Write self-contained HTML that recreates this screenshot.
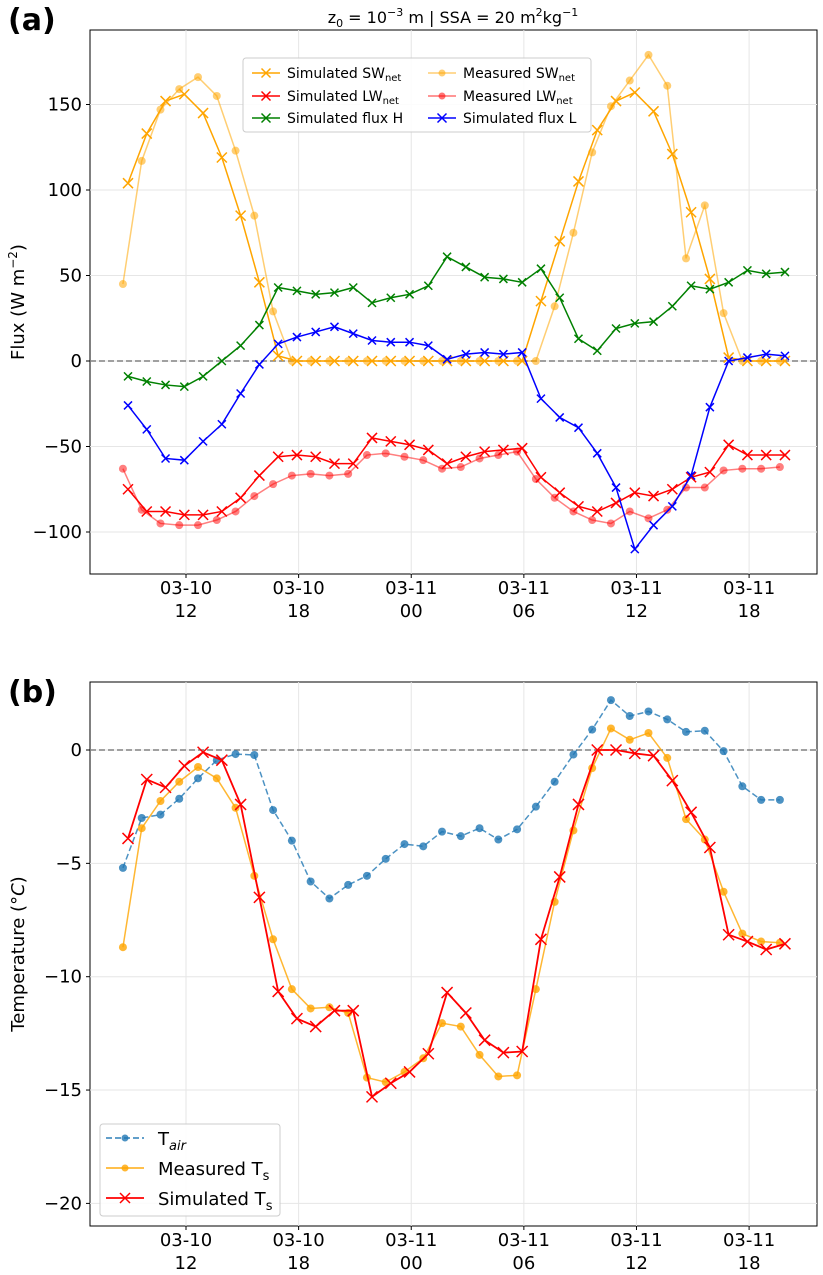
<!DOCTYPE html>
<html><head><meta charset="utf-8"><style>
body{margin:0;background:#fff}
svg{font-family:"DejaVu Sans","Liberation Sans",sans-serif;display:block}
</style></head><body>
<svg id="chart" width="823" height="1275" viewBox="0 0 823 1275" xmlns="http://www.w3.org/2000/svg">
<g id="pa"></g>
<g id="pb"></g>
</svg>
<script>
const xTickHours=[12,18,24,30,36,42];
const xTickTop=["03-10","03-10","03-11","03-11","03-11","03-11"];
const xTickBottom=["12","18","00","06","12","18"];
const startHour=8.64;
const simShift=0.27;
const simSW=[104,133,152,156,145,119,85,46,3,0,0,0,0,0,0,0,0,0,0,0,0,0,35,70,105,135,152,157,146,121,87,48,2,0,0,0];
const measSW=[45,117,147,159,166,155,123,85,29,0,0,0,0,0,0,0,0,0,0,0,0,0,0,32,75,122,149,164,179,161,60,91,28,0,0,0];
const simLW=[-75,-88,-88,-90,-90,-88,-80,-67,-56,-55,-56,-60,-60,-45,-47,-49,-52,-60,-56,-53,-52,-51,-68,-77,-85,-88,-83,-77,-79,-75,-68,-65,-49,-55,-55,-55];
const measLW=[-63,-87,-95,-96,-96,-93,-88,-79,-72,-67,-66,-67,-66,-55,-54,-56,-58,-63,-62,-57,-55,-53,-69,-80,-88,-93,-95,-88,-92,-87,-74,-74,-64,-63,-63,-62];
const simH=[-9,-12,-14,-15,-9,0,9,21,43,41,39,40,43,34,37,39,44,61,55,49,48,46,54,37,13,6,19,22,23,32,44,42,46,53,51,52];
const simL=[-26,-40,-57,-58,-47,-37,-19,-2,10,14,17,20,16,12,11,11,9,1,4,5,4,5,-22,-33,-39,-54,-74,-110,-96,-85,-67,-27,0,2,4,3];
const tAir=[-5.2,-3.0,-2.85,-2.15,-1.25,-0.45,-0.18,-0.22,-2.65,-4.0,-5.8,-6.55,-5.95,-5.55,-4.8,-4.15,-4.25,-3.6,-3.8,-3.45,-3.95,-3.5,-2.5,-1.4,-0.2,0.9,2.2,1.5,1.7,1.35,0.8,0.85,-0.05,-1.6,-2.2,-2.2];
const measTs=[-8.7,-3.45,-2.25,-1.4,-0.75,-1.25,-2.55,-5.55,-8.35,-10.55,-11.4,-11.35,-11.6,-14.45,-14.65,-14.2,-13.6,-12.05,-12.2,-13.45,-14.4,-14.35,-10.55,-6.7,-3.55,-0.8,0.95,0.45,0.75,-0.35,-3.05,-3.95,-6.25,-8.1,-8.45,-8.5];
const simTs=[-3.9,-1.3,-1.65,-0.7,-0.1,-0.45,-2.4,-6.5,-10.65,-11.85,-12.2,-11.5,-11.5,-15.3,-14.7,-14.2,-13.4,-10.7,-11.6,-12.8,-13.35,-13.3,-8.35,-5.6,-2.4,0,0,-0.15,-0.25,-1.35,-2.75,-4.3,-8.15,-8.45,-8.8,-8.55];
const yTicksA=[150,100,50,0,-50,-100];
const yTicksB=[0,-5,-10,-15,-20];

const NS="http://www.w3.org/2000/svg";
function mk(p,tag,at,txt){const e=document.createElementNS(NS,tag);for(const k in at)e.setAttribute(k,at[k]);if(txt!==undefined)e.textContent=txt;p.appendChild(e);return e;}
function xHour(h){return 186+(h-12)*18.77;}

function axes(g,top,bot,yScale,yTicks,yLabel){
  const fr=mk(g,'rect',{x:90,y:top,width:727,height:bot-top,fill:'none',stroke:'#000','stroke-width':1});
  
  yTicks.forEach(v=>{const y=yScale(v);
    const l=mk(g,'line',{x1:90,x2:817,y1:y,y2:y,stroke:'#e6e6e6'});
    
    mk(g,'line',{x1:86,x2:90,y1:y,y2:y,stroke:'#000'});
    const t=mk(g,'text',{x:82,y:y+6,'text-anchor':'end','font-size':18},String(v).replace('-','\u2212'));
    });
  xTickHours.forEach((h,i)=>{const x=xHour(h);
    const l=mk(g,'line',{x1:x,x2:x,y1:top,y2:bot,stroke:'#e6e6e6'});
    
    mk(g,'line',{x1:x,x2:x,y1:bot,y2:bot+4,stroke:'#000'});
    const t=mk(g,'text',{x:x,y:bot+20,'text-anchor':'middle','font-size':18},xTickTop[i]);
    
    const t2=mk(g,'text',{x:x,y:bot+43,'text-anchor':'middle','font-size':18},xTickBottom[i]);
    });
  const zl=mk(g,'line',{x1:90,x2:817,y1:yScale(0),y2:yScale(0),stroke:'#808080','stroke-width':1.5,'stroke-dasharray':'6,3'});
  
  const yc=(top+bot)/2;
  const yl=mk(g,'text',{x:0,y:0,transform:`translate(24,${yc}) rotate(-90)`,'text-anchor':'middle','font-size':18},'');
  yl.innerHTML=yLabel;
  
}
function marker(g,type,x,y,color,sz,op){
  if(type==='x'){const s=sz;mk(g,'path',{d:`M${x-s},${y-s}L${x+s},${y+s}M${x-s},${y+s}L${x+s},${y-s}`,stroke:color,'stroke-width':1.5,opacity:op});}
  else mk(g,'circle',{cx:x,cy:y,r:sz,fill:color,opacity:op});
}
function series(g,name,vals,off,yScale,color,type,op,dash,lw,msz){
  const s=mk(g,'g',{});
  
  const pts=vals.map((v,i)=>[xHour(startHour+off+i),yScale(v)]);
  const at={points:pts.map(p=>p.join(',')).join(' '),fill:'none',stroke:color,'stroke-width':lw,opacity:op};
  if(dash)at['stroke-dasharray']=dash;
  mk(s,'polyline',at);
  pts.forEach(p=>marker(s,type,p[0],p[1],color,msz,op));
}
// Panel A
const pa=document.getElementById('pa');
const yA=v=>361-v*1.71;
axes(pa,30,574,yA,yTicksA,'Flux (W m<tspan dy="-7" font-size="12">\u22122</tspan><tspan dy="7">)</tspan>');
series(pa,'measured-sw-series',measSW,0,yA,'#ffa500','o',0.55,null,1.5,4);
series(pa,'measured-lw-series',measLW,0,yA,'#ff0000','o',0.5,null,1.5,4);
series(pa,'simulated-sw-series',simSW,simShift,yA,'#ffa500','x',1,null,1.5,5);
series(pa,'simulated-lw-series',simLW,simShift,yA,'#ff0000','x',1,null,1.5,5);
series(pa,'simulated-h-series',simH,simShift,yA,'#008000','x',1,null,1.5,4);
series(pa,'simulated-l-series',simL,simShift,yA,'#0000ff','x',1,null,1.5,4);
const ta=mk(pa,'text',{x:453,y:23,'text-anchor':'middle','font-size':16},'');
ta.innerHTML='z<tspan dy="4" font-size="11">0</tspan><tspan dy="-4"> = 10</tspan><tspan dy="-7" font-size="11">\u22123</tspan><tspan dy="7"> m  |  SSA = 20 m</tspan><tspan dy="-7" font-size="11">2</tspan><tspan dy="7">kg</tspan><tspan dy="-7" font-size="11">\u22121</tspan>';

const la=mk(pa,'text',{x:8,y:30,'font-size':30,'font-weight':'bold'},'(a)');

// legend A
const lgA=mk(pa,'g',{});

mk(lgA,'rect',{x:243,y:58,width:348,height:74,rx:3,fill:'#fff','fill-opacity':0.85,stroke:'#ccc'});
const entA=[[252,73,'#ffa500','x',1,'Simulated SW<tspan dy="3" font-size="10">net</tspan>'],[252,96,'#ff0000','x',1,'Simulated LW<tspan dy="3" font-size="10">net</tspan>'],[252,118,'#008000','x',1,'Simulated flux H'],[428,73,'#ffa500','o',0.55,'Measured SW<tspan dy="3" font-size="10">net</tspan>'],[428,96,'#ff0000','o',0.55,'Measured LW<tspan dy="3" font-size="10">net</tspan>'],[428,118,'#0000ff','x',1,'Simulated flux L']];
entA.forEach(e=>{const g=mk(lgA,'g',{});
  
  mk(g,'line',{x1:e[0],x2:e[0]+28,y1:e[1],y2:e[1],stroke:e[2],'stroke-width':1.5,opacity:e[4]});
  marker(g,e[3],e[0]+14,e[1],e[2],e[3]==='x'?4.5:3.5,e[4]);
  const t=mk(g,'text',{x:e[0]+35,y:e[1]+5,'font-size':14},'');t.innerHTML=e[5];});
// Panel B
const pb=document.getElementById('pb');
const yB=v=>750-v*22.67;
axes(pb,682,1226,yB,yTicksB,'Temperature (\u00b0<tspan font-style="italic">C</tspan>)');
series(pb,'air-temperature-series',tAir,0,yB,'#1f77b4','o',0.8,'6,3',1.5,4);
series(pb,'measured-ts-series',measTs,0,yB,'#ffa500','o',0.8,null,1.5,4);
series(pb,'simulated-ts-series',simTs,simShift,yB,'#ff0000','x',1,null,1.8,5.5);
const lb=mk(pb,'text',{x:8,y:702,'font-size':30,'font-weight':'bold'},'(b)');

const lgB=mk(pb,'g',{});

mk(lgB,'rect',{x:100,y:1124,width:180,height:92,rx:3,fill:'#fff','fill-opacity':0.85,stroke:'#ccc'});
const entB=[[106,1138,'#1f77b4','o',0.8,'6,3','T<tspan dy="5" font-size="13" font-style="italic">air</tspan>'],[106,1168,'#ffa500','o',0.8,null,'Measured T<tspan dy="5" font-size="13">s</tspan>'],[106,1198,'#ff0000','x',1,null,'Simulated T<tspan dy="5" font-size="13">s</tspan>']];
entB.forEach(e=>{const g=mk(lgB,'g',{});
  
  const at={x1:e[0],x2:e[0]+38,y1:e[1],y2:e[1],stroke:e[2],'stroke-width':1.8,opacity:e[4]};if(e[5])at['stroke-dasharray']=e[5];
  mk(g,'line',at);
  marker(g,e[3],e[0]+19,e[1],e[2],e[3]==='x'?5:3.5,e[4]);
  const t=mk(g,'text',{x:e[0]+52,y:e[1]+7,'font-size':18},'');t.innerHTML=e[6];});
</script>
</body></html>
